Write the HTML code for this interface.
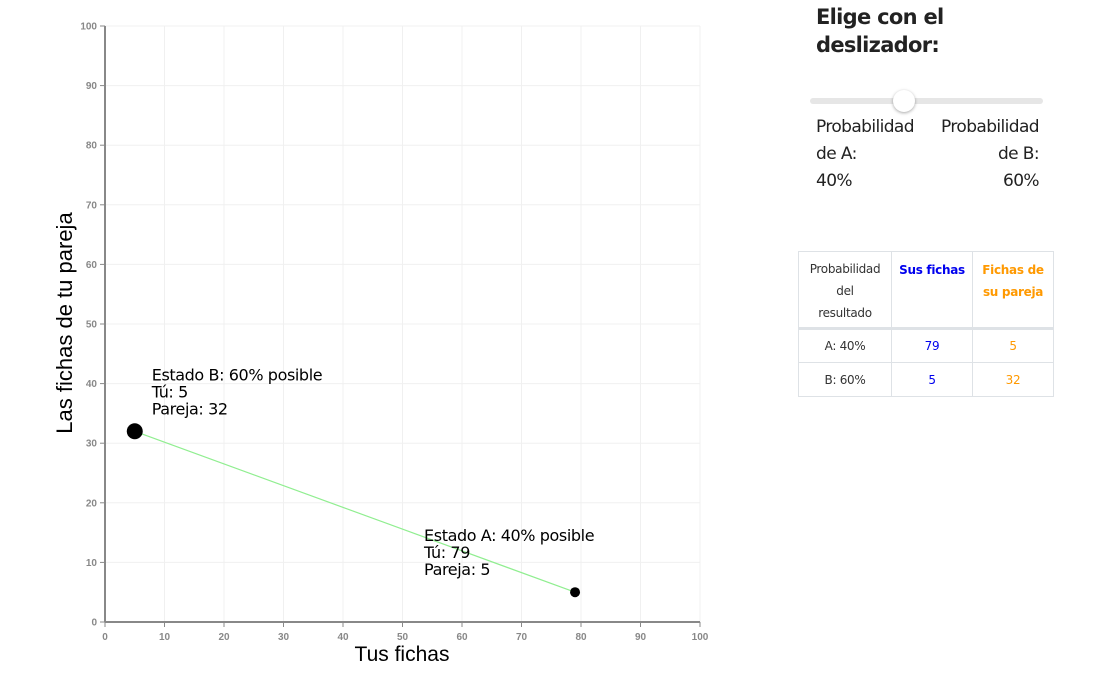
<!DOCTYPE html>
<html><head><meta charset="utf-8"><style>
body{margin:0;width:1101px;height:676px;background:#fff;font-family:"Liberation Sans",sans-serif;position:relative;overflow:hidden}
.abs{position:absolute}
.ttl{left:816px;top:3px;font-size:21px;font-weight:bold;color:#222;line-height:28px;font-family:"DejaVu Sans","Liberation Sans",sans-serif;letter-spacing:-0.7px}
.lbl{font-size:17px;color:#222;line-height:27px;font-family:"DejaVu Sans","Liberation Sans",sans-serif;letter-spacing:-0.6px}
table{border-collapse:collapse;font-size:12px;font-family:"DejaVu Sans","Liberation Sans",sans-serif;color:#333;letter-spacing:-0.3px}
td,th{border:1px solid #dee2e6;text-align:center;padding:0}
</style></head><body>
<svg class="abs" style="left:0;top:0" width="760" height="676">
<g id="grid"></g><g id="axes"></g><g id="marks"></g>
<text x="402" y="661" font-size="21" text-anchor="middle">Tus fichas</text>
<text transform="translate(72,323) rotate(-90)" font-size="22" text-anchor="middle">Las fichas de tu pareja</text>
</svg>
<div class="abs ttl">Elige con el<br>deslizador:</div>
<div class="abs" style="left:810px;top:98px;width:233px;height:6px;border-radius:3px;background:#e6e6e6"></div>
<div class="abs" style="left:893px;top:90px;width:22px;height:22px;border-radius:50%;background:#fff;box-shadow:0 1px 3px rgba(0,0,0,.35)"></div>
<div class="abs lbl" style="left:816px;top:114px">Probabilidad<br>de A:<br>40%</div>
<div class="abs lbl" style="left:928px;top:114px;width:111px;text-align:right">Probabilidad<br>de B:<br>60%</div>
<table class="abs" style="left:798px;top:251px;width:256px">
<tr style="height:77px;border-bottom:3px solid #dee2e6"><th style="width:92px;font-weight:normal;line-height:22px;vertical-align:top;padding-top:6px">Probabilidad<br>del<br>resultado</th><th style="width:80px;color:#0000ee;vertical-align:top;padding-top:7px;line-height:22px">Sus fichas</th><th style="color:#ff9900;vertical-align:top;padding-top:7px;line-height:22px">Fichas de<br>su pareja</th></tr>
<tr style="height:34px"><td>A: 40%</td><td style="color:#0000ee">79</td><td style="color:#ff9900">5</td></tr>
<tr style="height:34px"><td>B: 60%</td><td style="color:#0000ee">5</td><td style="color:#ff9900">32</td></tr>
</table>
<script>
const ticks=[0,10,20,30,40,50,60,70,80,90,100];
const states=["B","A"];
const probs=[60,40];
const tuValues=[5,79];
const parejaValues=[32,5];
const radii=[8,5];
const NS="http://www.w3.org/2000/svg";
const X=v=>105+v*5.95, Y=v=>622-v*5.96;
function mk(p,t,a){const e=document.createElementNS(NS,t);for(const k in a)e.setAttribute(k,a[k]);p.appendChild(e);return e;}
const grid=document.getElementById('grid'),axes=document.getElementById('axes'),marks=document.getElementById('marks');
ticks.forEach(t=>{
 if(t>0){const g1=mk(grid,'line',{x1:X(t),x2:X(t),y1:Y(0),y2:Y(100),stroke:'#f0f0f0'});
 
 
 const g2=mk(grid,'line',{x1:X(0),x2:X(100),y1:Y(t),y2:Y(t),stroke:'#f0f0f0'});
 
 }
 mk(axes,'line',{x1:X(t),x2:X(t),y1:Y(0),y2:Y(0)+5,stroke:'#888'});
 mk(axes,'line',{x1:X(0)-5,x2:X(0),y1:Y(t),y2:Y(t),stroke:'#888'});
 const xl=mk(axes,'text',{x:X(t),y:Y(0)+18,'font-size':10,'font-weight':'bold',fill:'#888','text-anchor':'middle'});xl.textContent=t;
 
 
 const yl=mk(axes,'text',{x:X(0)-8,y:Y(t)+3.5,'font-size':10,'font-weight':'bold',fill:'#888','text-anchor':'end'});yl.textContent=t;
 
 
});
const xa=mk(axes,'line',{x1:X(0),x2:X(100),y1:Y(0),y2:Y(0),stroke:'#888','stroke-width':2});


const ya=mk(axes,'line',{x1:X(0),x2:X(0),y1:Y(0),y2:Y(100),stroke:'#888','stroke-width':2});


const ln=mk(marks,'line',{x1:X(tuValues[0]),y1:Y(parejaValues[0]),x2:X(tuValues[1]),y2:Y(parejaValues[1]),stroke:'#90ee90','stroke-width':1.2});


states.forEach((s,i)=>{
 const c=mk(marks,'circle',{cx:X(tuValues[i]),cy:Y(parejaValues[i]),r:radii[i],fill:'#000'});
 
 
 const lx=i==0?X(tuValues[i])+17:X(tuValues[i])-151, ly=Y(parejaValues[i])-51;
 const t=mk(marks,'text',{x:lx,y:ly,'font-size':16,'font-family':'DejaVu Sans, Liberation Sans, sans-serif','letter-spacing':'-0.4'});
 
 
 ['Estado '+s+': '+probs[i]+'% posible','Tú: '+tuValues[i],'Pareja: '+parejaValues[i]].forEach((s2,j)=>{mk(t,'tspan',{x:lx,y:ly+j*17}).textContent=s2;});
});
</script>
</body></html>
